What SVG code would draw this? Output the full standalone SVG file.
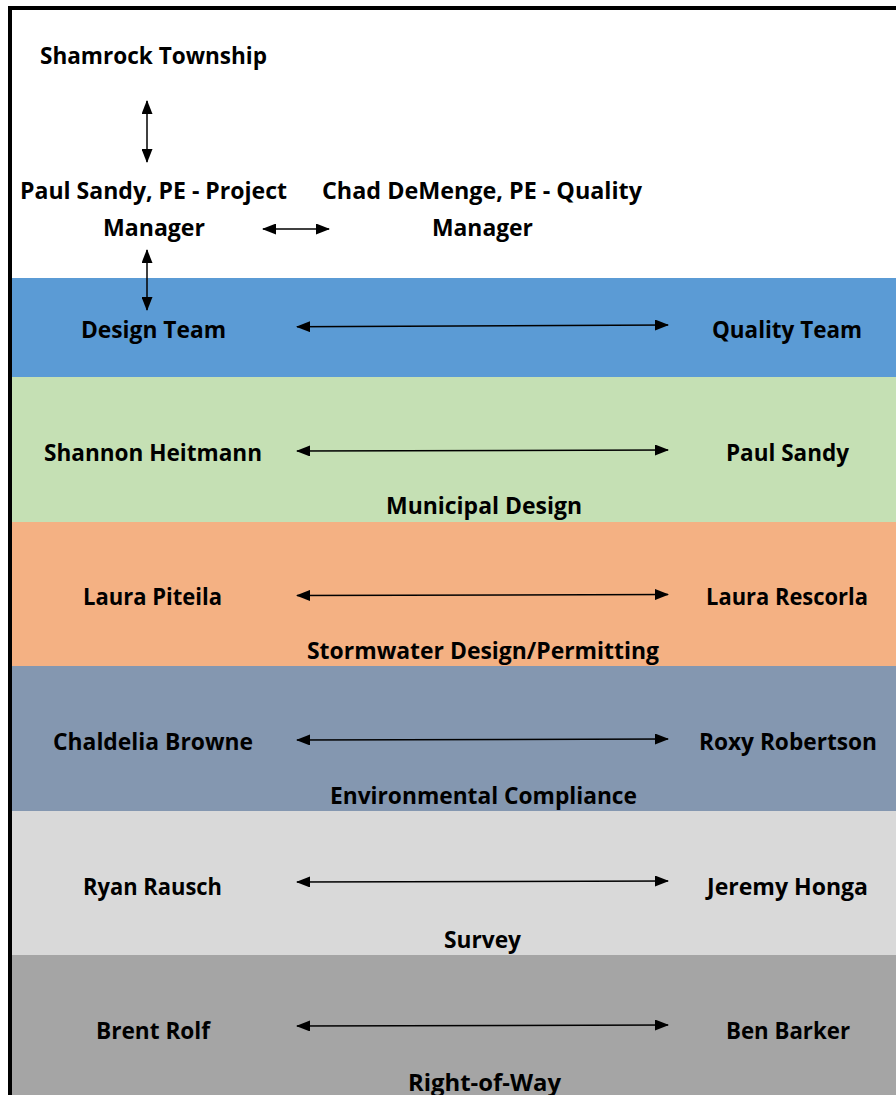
<svg xmlns="http://www.w3.org/2000/svg" width="896" height="1095" viewBox="0 0 896 1095">
  <style>
    text { font-family: "Open Sans", "Liberation Sans", sans-serif; font-weight: bold; font-size: 23.5px; fill: #000; text-anchor: middle; }
    .conn { stroke: #000; stroke-width: 1.5; fill: none; marker-start: url(#head); marker-end: url(#head); }
  </style>
  <defs>
    <marker id="head" viewBox="0 0 14 11" refX="13" refY="5.5" markerWidth="14" markerHeight="11" markerUnits="userSpaceOnUse" orient="auto-start-reverse">
      <path d="M0,0 L14,5.5 L0,11 Z" fill="#000"/>
    </marker>
  </defs>

  <!-- background and frame -->
  <rect x="0" y="0" width="896" height="1095" fill="#fff"/>
  <g id="bands">
    <rect x="12" y="278" width="884" height="99" fill="#5B9BD5"/>
    <rect x="12" y="377" width="884" height="145" fill="#C5E0B4"/>
    <rect x="12" y="522" width="884" height="144" fill="#F4B183"/>
    <rect x="12" y="666" width="884" height="145" fill="#8497B0"/>
    <rect x="12" y="811" width="884" height="144" fill="#D9D9D9"/>
    <rect x="12" y="955" width="884" height="140" fill="#A5A5A5"/>
  </g>
  <g id="frame">
    <rect x="8" y="6" width="888" height="4" fill="#000"/>
    <rect x="8" y="6" width="4" height="1089" fill="#000"/>
  </g>

  <!-- top management -->
  <g id="township"><text x="153.5" y="64" textLength="227" lengthAdjust="spacingAndGlyphs">Shamrock Township</text></g>
  <g id="project-manager">
    <text x="153.5" y="199" textLength="267" lengthAdjust="spacingAndGlyphs">Paul Sandy, PE - Project</text>
    <text x="154" y="236" textLength="102" lengthAdjust="spacingAndGlyphs">Manager</text>
  </g>
  <g id="quality-manager">
    <text x="482" y="199" textLength="320" lengthAdjust="spacingAndGlyphs">Chad DeMenge, PE - Quality</text>
    <text x="482.5" y="236" textLength="101" lengthAdjust="spacingAndGlyphs">Manager</text>
  </g>

  <!-- team rows -->
  <g id="design-team"><text x="153.5" y="338" textLength="145" lengthAdjust="spacingAndGlyphs">Design Team</text></g>
  <g id="quality-team"><text x="787" y="338" textLength="150" lengthAdjust="spacingAndGlyphs">Quality Team</text></g>

  <g id="municipal-design">
    <text x="153" y="461" textLength="218" lengthAdjust="spacingAndGlyphs">Shannon Heitmann</text>
    <text x="787.5" y="461" textLength="123" lengthAdjust="spacingAndGlyphs">Paul Sandy</text>
    <text x="484" y="514" textLength="196" lengthAdjust="spacingAndGlyphs">Municipal Design</text>
  </g>
  <g id="stormwater">
    <text x="152.5" y="605" textLength="139" lengthAdjust="spacingAndGlyphs">Laura Piteila</text>
    <text x="787" y="605" textLength="162" lengthAdjust="spacingAndGlyphs">Laura Rescorla</text>
    <text x="483" y="659" textLength="352" lengthAdjust="spacingAndGlyphs">Stormwater Design/Permitting</text>
  </g>
  <g id="environmental">
    <text x="153" y="750" textLength="200" lengthAdjust="spacingAndGlyphs">Chaldelia Browne</text>
    <text x="788" y="750" textLength="178" lengthAdjust="spacingAndGlyphs">Roxy Robertson</text>
    <text x="483.5" y="804" textLength="307" lengthAdjust="spacingAndGlyphs">Environmental Compliance</text>
  </g>
  <g id="survey">
    <text x="152.5" y="895" textLength="139" lengthAdjust="spacingAndGlyphs">Ryan Rausch</text>
    <text x="787.5" y="895" textLength="161" lengthAdjust="spacingAndGlyphs">Jeremy Honga</text>
    <text x="482.5" y="948" textLength="77" lengthAdjust="spacingAndGlyphs">Survey</text>
  </g>
  <g id="right-of-way">
    <text x="153" y="1039" textLength="114" lengthAdjust="spacingAndGlyphs">Brent Rolf</text>
    <text x="788" y="1039" textLength="124" lengthAdjust="spacingAndGlyphs">Ben Barker</text>
    <text x="484.5" y="1091" textLength="153" lengthAdjust="spacingAndGlyphs">Right-of-Way</text>
  </g>

  <!-- connectors -->
  <g id="connectors">
    <line class="conn" x1="147" y1="101" x2="147" y2="162"/>
    <line class="conn" x1="263" y1="229" x2="329" y2="229"/>
    <line class="conn" x1="147" y1="250" x2="147" y2="310"/>
    <line class="conn" x1="297" y1="326.7" x2="668" y2="325"/>
    <line class="conn" x1="297" y1="451" x2="668" y2="450"/>
    <line class="conn" x1="297" y1="595.5" x2="668" y2="594.5"/>
    <line class="conn" x1="297" y1="740" x2="668" y2="739"/>
    <line class="conn" x1="297" y1="882" x2="668" y2="881"/>
    <line class="conn" x1="297" y1="1026" x2="668" y2="1025"/>
  </g>
</svg>
